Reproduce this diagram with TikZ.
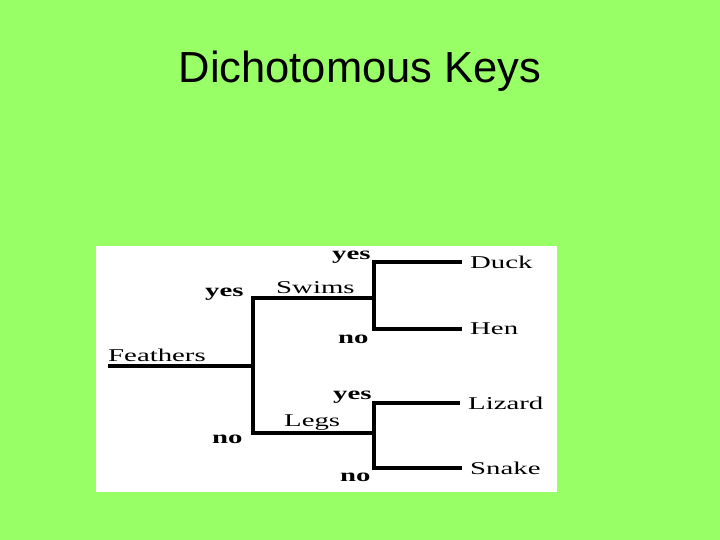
\documentclass[tikz,border=0pt]{standalone}
\usepackage{fontspec}
\setmainfont{Liberation Serif}
\newfontfamily\titlefont{Liberation Sans}
\newfontfamily\keyfont[FakeStretch=1.6]{Liberation Serif}
\usetikzlibrary{positioning}
\definecolor{bggreen}{RGB}{153,255,102}

\begin{document}
\begin{tikzpicture}[x=1pt,y=-1pt,
  every node/.style={inner sep=0pt,font=\keyfont\fontsize{18}{18}\selectfont},
  answer/.style={anchor=base west,font=\keyfont\bfseries\fontsize{18}{18}\selectfont},
  question/.style={anchor=base west},
  leaf/.style={anchor=west},
  branch/.style={line width=4.5pt,line join=miter}]
\useasboundingbox (0,0) rectangle (720,540);
\fill[bggreen] (0,0) rectangle (720,540);
\fill[white] (96,246) rectangle (557,492);

\node (title) [anchor=base,font=\titlefont\fontsize{43.5}{43.5}\selectfont] at (360,83) {Dichotomous Keys};

% forks of the key
\coordinate (f0) at (108,366);
\coordinate (k1) at (253,366);
\coordinate (k1a) at (253,298);
\coordinate (k1b) at (253,433);
\coordinate (k2) at (374,298);
\coordinate (k2a) at (374,262);
\coordinate (k2b) at (374,329);
\coordinate (k3) at (374,433);
\coordinate (k3a) at (374,403);
\coordinate (k3b) at (374,468);

\node (feathers) [question] at (108,361) {Feathers};
\node (swims) [question] at (276,293) {Swims};
\node (legs) [question] at (284,426) {Legs};

\node (duck) [leaf] at (470,262) {Duck};
\node (hen) [leaf] at (470,329) {Hen};
\node (lizard) [leaf] at (468,403) {Lizard};
\node (snake) [leaf] at (470,468) {Snake};

\node (yes1) [answer] at (205,296) {yes};
\node (no1) [answer] at (212,443) {no};
\node (yes2) [answer] at (332,259) {yes};
\node (no2) [answer] at (338,343) {no};
\node (yes3) [answer] at (333,399) {yes};
\node (no3) [answer] at (340,481) {no};

\draw[branch] (f0) -- (k1);
\draw[branch] (k2) -- (k1a) -- (k1b) -- (k3);
\draw[branch,shorten <=8pt,shorten >=8pt] (duck.west) -- (k2a) -- (k2b) -- (hen.west);
\draw[branch,shorten <=8pt,shorten >=8pt] (lizard.west) -- (k3a) -- (k3b) -- (snake.west);
\end{tikzpicture}
\end{document}
